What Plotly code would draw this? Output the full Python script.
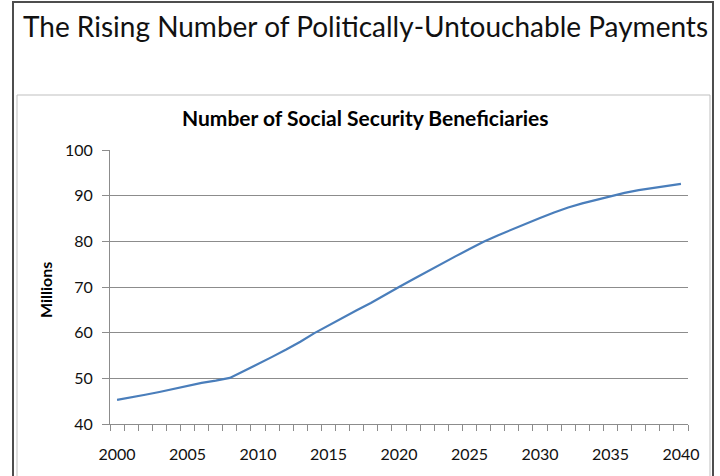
import plotly.graph_objects as go

years = list(range(2000, 2041))
beneficiaries = [45.3, 45.8, 46.4, 47.0, 47.7, 48.4, 49.0, 49.5, 50.1, 51.6,
                 53.1, 54.7, 56.3, 58.0, 59.9, 61.6, 63.3, 64.9, 66.5, 68.3,
                 70.0, 71.7, 73.4, 75.1, 76.7, 78.3, 79.9, 81.3, 82.6, 83.9,
                 85.1, 86.3, 87.4, 88.3, 89.1, 89.9, 90.6, 91.2, 91.7, 92.2, 92.6]
x_tick_labels = [str(y) for y in range(2000, 2041, 5)]
y_ticks = [40, 50, 60, 70, 80, 90, 100]

main_title = "The Rising Number of Politically-Untouchable Payments"
chart_title = "Number of Social Security Beneficiaries"
y_title = "Millions"

W, H = 720, 476
L, R, T, B = 110, 688, 150, 424

def px(x):
    return (x - L) / (R - L)

def py(y):
    return (B - y) / (B - T)

FONT = "Lato, Open Sans, sans-serif"

fig = go.Figure()
fig.add_trace(go.Scatter(x=years, y=beneficiaries, mode="lines",
                         line=dict(color="#4A7EBB", width=2.2), showlegend=False))

fig.update_layout(
    width=W, height=H,
    margin=dict(l=L, r=W - R, t=T, b=H - B),
    paper_bgcolor="white", plot_bgcolor="white",
    font=dict(family=FONT, color="#000"),
    xaxis=dict(range=[1999.5, 2040.5], tickvals=[int(t) for t in x_tick_labels],
               ticktext=x_tick_labels, ticks="", showgrid=False,
               showline=True, linecolor="#8C8C8C", linewidth=1,
               tickfont=dict(size=16, color="#111"), ticklabelstandoff=16,
               minor=dict(tick0=1999.5, dtick=1, ticks="outside", ticklen=6,
                          tickcolor="#8C8C8C", showgrid=False),
               zeroline=False, fixedrange=True),
    yaxis=dict(range=[40, 100], tickvals=y_ticks, ticks="outside", ticklen=7,
               tickcolor="#8C8C8C", showgrid=True, gridcolor="#8C8C8C", gridwidth=1,
               showline=True, linecolor="#8C8C8C", linewidth=1,
               tickfont=dict(size=16, color="#111"), ticklabelstandoff=6,
               zeroline=False, fixedrange=True),
    shapes=[
        dict(type="rect", xref="paper", yref="paper",
             x0=px(17), x1=px(710), y0=py(95), y1=py(500),
             line=dict(color="#BFBFBF", width=1), layer="below"),
        dict(type="rect", xref="paper", yref="paper",
             x0=px(13), x1=px(713), y0=py(2), y1=py(500),
             line=dict(color="#4D4D4D", width=2), layer="below"),
    ],
    annotations=[
        dict(text=main_title, xref="paper", yref="paper", x=px(21), y=py(26),
             xanchor="left", yanchor="middle", showarrow=False,
             font=dict(size=28, color="#111", family=FONT)),
        dict(text="<b>" + chart_title + "</b>", xref="paper", yref="paper",
             x=px(365), y=py(117), xanchor="center", yanchor="middle", showarrow=False,
             font=dict(size=21, color="#000", family=FONT)),
        dict(text="<b>" + y_title + "</b>", xref="paper", yref="paper",
             x=px(45), y=py(290), xanchor="center", yanchor="middle", showarrow=False,
             textangle=-90, font=dict(size=16, color="#000", family=FONT)),
    ],
)

fig.write_html("out.html", config={"displayModeBar": False},
               post_script="document.body.style.margin='0px';")
